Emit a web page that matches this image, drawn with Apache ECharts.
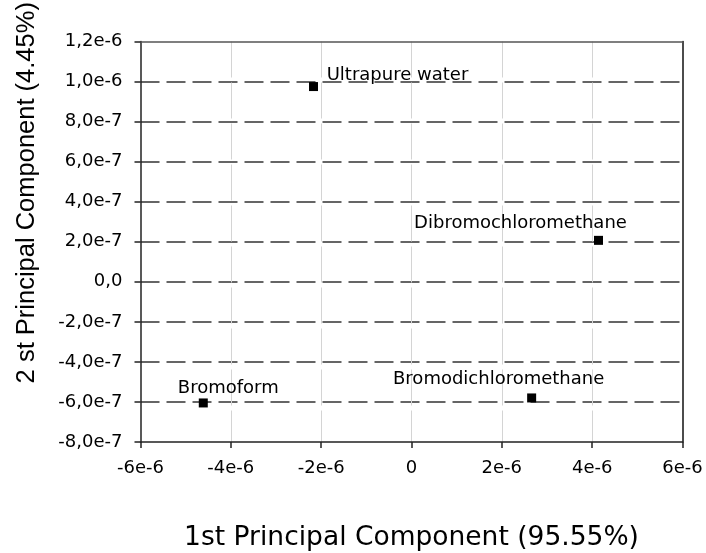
<!DOCTYPE html>
<html>
<head>
<meta charset="utf-8">
<script src="https://cdn.jsdelivr.net/npm/echarts@6/dist/echarts.min.js"></script>
<style>
html,body{margin:0;padding:0;background:#fff;}
#chart{width:706px;height:553px;}
</style>
</head>
<body>
<div id="chart"></div>
<script>
// ---- data ----
var sampleNames = ['Ultrapure water', 'Dibromochloromethane', 'Bromodichloromethane', 'Bromoform'];
var pc1Values = [-2.17e-6, 4.14e-6, 2.66e-6, -4.61e-6];
var pc2Values = [9.75e-7, 2.07e-7, -5.8e-7, -6.05e-7];
var xTickLabels = ['-6e-6', '-4e-6', '-2e-6', '0', '2e-6', '4e-6', '6e-6'];
var yTickLabels = ['-8,0e-7', '-6,0e-7', '-4,0e-7', '-2,0e-7', '0,0', '2,0e-7', '4,0e-7', '6,0e-7', '8,0e-7', '1,0e-6', '1,2e-6'];
var xTitle = '1st Principal Component (95.55%)';
var yTitle = '2 st Principal Component (4.45%)';

// ---- presentation ----
var X_MIN = -6e-6, X_MAX = 6e-6, X_INT = 2e-6;
var Y_MIN = -8e-7, Y_MAX = 1.2e-6, Y_INT = 2e-7;
var labelOffsets = {
  'Ultrapure water': [84, -11],
  'Dibromochloromethane': [-78, -17],
  'Bromodichloromethane': [-33, -19],
  'Bromoform': [25, -15]
};
var TXT = '"DejaVu Sans", sans-serif';

var points = sampleNames.map(function (n, i) {
  return {
    name: n,
    value: [pc1Values[i], pc2Values[i]],
    label: { offset: labelOffsets[n] }
  };
});

function frameAxis(pos, color) {
  return {
    type: 'value', position: pos,
    min: pos === 'top' ? X_MIN : Y_MIN, max: pos === 'top' ? X_MAX : Y_MAX,
    interval: pos === 'top' ? X_INT : Y_INT,
    axisLine: { show: true, onZero: false, lineStyle: { color: color, width: 1.5 } },
    axisTick: { show: false }, axisLabel: { show: false }, splitLine: { show: false }
  };
}

var chart = echarts.init(document.getElementById('chart'), null, { renderer: 'canvas' });
chart.setOption({
  animation: false,
  backgroundColor: '#fff',
  grid: {
    left: 140.5, right: 23.5, top: 41.5, bottom: 111, show: false,
    containLabel: false, outerBoundsMode: 'none'
  },
  xAxis: [{
    type: 'value', min: X_MIN, max: X_MAX, interval: X_INT, position: 'bottom',
    name: xTitle, nameLocation: 'middle', nameGap: 83,
    nameTextStyle: { fontFamily: TXT, fontSize: 26.5, color: '#000' },
    axisLine: { show: true, onZero: false, lineStyle: { color: '#222', width: 1.5 } },
    axisTick: { show: true, length: 6, lineStyle: { color: '#222', width: 1.5 } },
    axisLabel: {
      fontFamily: TXT, fontSize: 18, color: '#000', margin: 17,
      formatter: function (v) { return xTickLabels[Math.round((v - X_MIN) / X_INT)]; }
    },
    splitLine: { show: true, showMinLine: false, showMaxLine: false,
      lineStyle: { color: '#d4d4d4', width: 1, type: [36, 5] } }
  }, frameAxis('top', '#555')],
  yAxis: [{
    type: 'value', min: Y_MIN, max: Y_MAX, interval: Y_INT, position: 'left',
    name: yTitle, nameLocation: 'middle', nameGap: 101,
    nameTextStyle: { fontFamily: '"Liberation Sans", Arial, sans-serif', fontSize: 25.5, color: '#000', padding: [0, 0, 0, 98] },
    axisLine: { show: true, onZero: false, lineStyle: { color: '#222', width: 1.5 } },
    axisTick: { show: true, length: 6, lineStyle: { color: '#222', width: 1.5 } },
    axisLabel: {
      fontFamily: TXT, fontSize: 18, color: '#000', margin: 18,
      formatter: function (v) { return yTickLabels[Math.round((v - Y_MIN) / Y_INT)]; }
    },
    splitLine: { show: true, showMinLine: false, showMaxLine: false,
      lineStyle: { color: '#333', width: 1.5, type: [19, 7] } }
  }, frameAxis('right', '#111')],
  series: [{
    type: 'scatter',
    xAxisIndex: 0, yAxisIndex: 0,
    symbol: 'rect',
    symbolSize: 9,
    itemStyle: { color: '#000', opacity: 1 },
    label: {
      show: true, position: 'inside', align: 'center', verticalAlign: 'middle',
      formatter: '{b}', fontFamily: TXT, fontSize: 18, color: '#000', opacity: 1,
      textBorderWidth: 0
    },
    data: points
  }]
});
</script>
</body>
</html>
